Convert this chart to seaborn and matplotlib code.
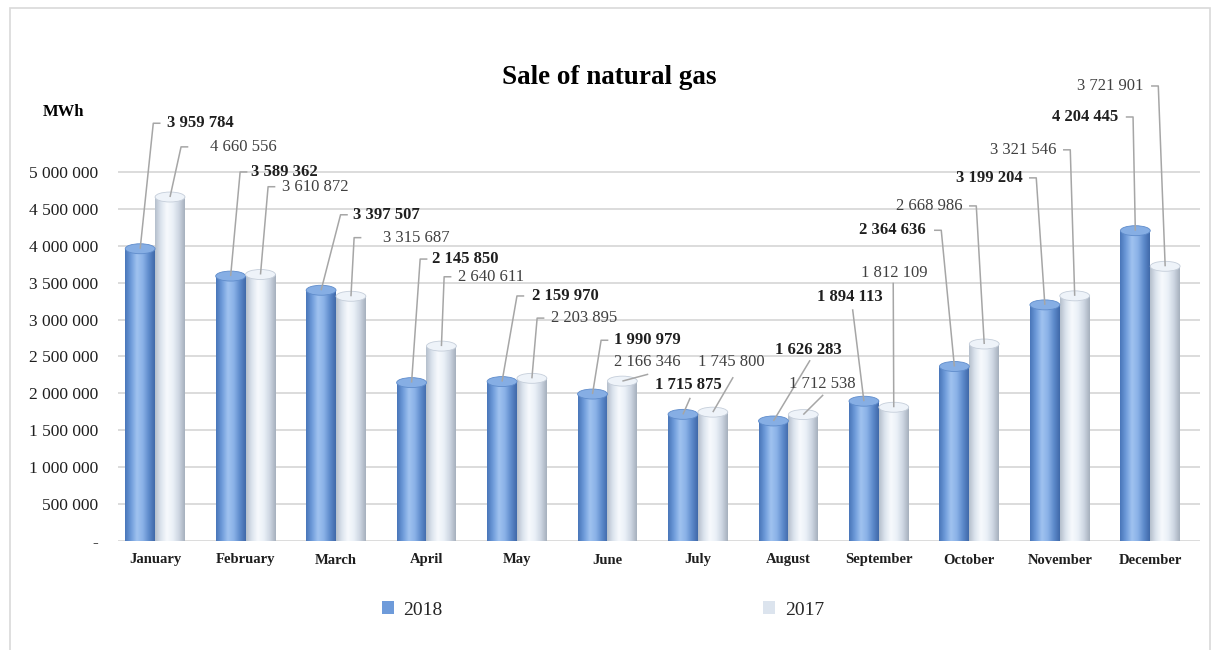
import numpy as np
import pandas as pd
import matplotlib
matplotlib.use("Agg")
import matplotlib.pyplot as plt
import seaborn as sns
from matplotlib.patches import Ellipse, Rectangle
from matplotlib.colors import LinearSegmentedColormap

# ---------------- data ----------------
months = ["January", "February", "March", "April", "May", "June", "July",
          "August", "September", "October", "November", "December"]
years = ["2018", "2017"]
sales_2018 = [3959784, 3589362, 3397507, 2145850, 2159970, 1990979,
              1715875, 1626283, 1894113, 2364636, 3199204, 4204445]
sales_2017 = [4660556, 3610872, 3315687, 2640611, 2203895, 2166346,
              1745800, 1712538, 1812109, 2668986, 3321546, 3721901]
y_ticks = list(range(0, 5_000_001, 500_000))
title = "Sale of natural gas"
unit = "MWh"

# ---------------- label layout (data coords: leader end, text anchor) ----------------
lead_end_2018 = [(-0.02, 5.66e6), (0.94, 5.00e6), (2.05, 4.42e6), (2.93, 3.82e6),
                 (4.00, 3.32e6), (4.93, 2.72e6), (5.915, 1.94e6), (7.24, 2.45e6),
                 (7.71, 3.14e6), (8.69, 4.21e6), (9.74, 4.92e6), (10.81, 5.745e6)]
text_pos_2018 = [(0.133, 5.66e6, "left"), (1.061, 5.00e6, "left"), (2.189, 4.42e6, "left"),
                 (3.062, 3.82e6, "left"), (4.168, 3.32e6, "left"), (5.074, 2.72e6, "left"),
                 (5.893, 2.11e6, "center"), (7.22, 2.59e6, "center"), (7.684, 3.31e6, "center"),
                 (8.524, 4.21e6, "right"), (9.585, 4.92e6, "right"), (10.647, 5.745e6, "right")]
lead_end_2017 = [(0.287, 5.34e6), (1.249, 4.80e6), (2.20, 4.11e6), (3.195, 3.58e6),
                 (4.223, 3.02e6), (5.451, 2.26e6), (6.39, 2.22e6), (7.385, 1.98e6),
                 (8.159, 3.50e6), (9.077, 4.54e6), (10.116, 5.30e6), (11.089, 6.165e6)]
text_pos_2017 = [(0.608, 5.34e6, "left"), (1.404, 4.80e6, "left"), (2.521, 4.11e6, "left"),
                 (3.35, 3.58e6, "left"), (4.378, 3.02e6, "left"), (5.439, 2.425e6, "center"),
                 (6.368, 2.425e6, "center"), (7.374, 2.13e6, "center"), (8.17, 3.63e6, "center"),
                 (8.922, 4.54e6, "right"), (9.961, 5.30e6, "right"), (10.923, 6.165e6, "right")]

df = pd.DataFrame({
    "month": months * 2,
    "year": [years[0]] * len(months) + [years[1]] * len(months),
    "value": sales_2018 + sales_2017,
})

# ---------------- style ----------------
sns.set_theme(style="white")
plt.rcParams["font.family"] = ["Liberation Serif", "DejaVu Serif"]

blue, light = "#6E9BDA", "#DCE4EE"
cmaps = [
    LinearSegmentedColormap.from_list("b", ["#4875B8", "#6E9BDA", "#A0C3F0", "#8AB1E7", "#5D8ACB", "#3F68A8"]),
    LinearSegmentedColormap.from_list("w", ["#B4BECB", "#DCE4EE", "#F7FAFD", "#EAF0F7", "#CDD6E2", "#A5AFBC"]),
]
cap_colors = ["#86AEE4", "#EEF3F9"]
cap_edges = ["#5F8CCB", "#C5CEDA"]

fig = plt.figure(figsize=(12.19, 6.5), dpi=100)
ax = fig.add_axes([118 / 1219, (650 - 541) / 650, (1200 - 118) / 1219, 457.6 / 650])

sns.barplot(data=df, x="month", y="value", hue="year", hue_order=years,
            palette=[blue, light], width=0.66, dodge=True, ax=ax,
            saturation=1, edgecolor="none", zorder=2)

handles, labels = ax.get_legend_handles_labels()
if ax.get_legend() is not None:
    ax.get_legend().remove()

cap_h = 135_000
grad = np.linspace(0, 1, 256)[np.newaxis, :]
for k, cont in enumerate(ax.containers):
    for p in cont.patches:
        x0, w, h = p.get_x(), p.get_width(), p.get_height()
        im = ax.imshow(grad, extent=[x0, x0 + w, 0, h], aspect="auto",
                       cmap=cmaps[k], zorder=2.1, interpolation="bicubic")
        im.set_clip_path(p)
        ax.add_patch(Ellipse((x0 + w / 2, h), w, cap_h, facecolor=cap_colors[k],
                             edgecolor=cap_edges[k], lw=0.6, zorder=2.3))

# ---------------- data labels with leader lines ----------------
series = [sales_2018, sales_2017]
ends = [lead_end_2018, lead_end_2017]
texts = [text_pos_2018, text_pos_2017]
weights = ["bold", "normal"]
colors = ["#1F1F1F", "#404040"]
hook = 0.08
for k, cont in enumerate(ax.containers):
    for i, p in enumerate(cont.patches):
        bx = p.get_x() + p.get_width() / 2
        by = p.get_height()
        ex, ey = ends[k][i]
        tx, ty, ha = texts[k][i]
        xs, ys = [bx, ex], [by, ey]
        if ha == "left":
            xs.append(ex + hook); ys.append(ey)
        elif ha == "right":
            xs.append(ex - hook); ys.append(ey)
        ax.plot(xs, ys, color="#A6A6A6", lw=1.1, zorder=4, clip_on=False,
                solid_capstyle="butt")
        ax.text(tx, ty, f"{series[k][i]:,}".replace(",", " "), ha=ha, va="center",
                fontsize=12, fontweight=weights[k], color=colors[k], zorder=5,
                clip_on=False)

# ---------------- axes ----------------
ax.set_xlim(-0.41, 11.55)
ax.set_ylim(0, 6.2e6)
ax.set_yticks(y_ticks)
ax.set_yticklabels(["-" if v == 0 else f"{v:,}".replace(",", " ") for v in y_ticks],
                   fontsize=12.5, color="#1F1F1F")
ax.yaxis.grid(True, color="#D9D9D9", lw=1.3)
ax.xaxis.grid(False)
ax.set_axisbelow(True)
for s in ax.spines.values():
    s.set_visible(False)
ax.tick_params(axis="y", length=0, pad=14)
ax.tick_params(axis="x", length=0, pad=9)
for lab in ax.get_xticklabels():
    lab.set_fontweight("bold")
    lab.set_fontsize(10.5)
    lab.set_color("#1F1F1F")
ax.set_xlabel("")
ax.set_ylabel("")

fig.text(0.5, 1 - 77 / 650, title, ha="center", va="center",
         fontsize=19.5, fontweight="bold", color="#000000")
fig.text(64 / 1219, 1 - 112 / 650, unit, ha="center", va="center",
         fontsize=12, fontweight="bold", color="#000000")

fig.legend(handles, labels, loc="center", bbox_to_anchor=(603 / 1219, 1 - 610 / 650),
           ncol=2, frameon=False, fontsize=14, handlelength=0.6, handleheight=0.6,
           handletextpad=0.5, columnspacing=16.5)

fig.add_artist(Rectangle((10 / 1219, -0.02), 1200 / 1219, 1.02 - 8 / 650,
                         transform=fig.transFigure, fill=False,
                         edgecolor="#D9D9D9", lw=1.2))

fig.savefig("out.png", dpi=100, facecolor="white")
